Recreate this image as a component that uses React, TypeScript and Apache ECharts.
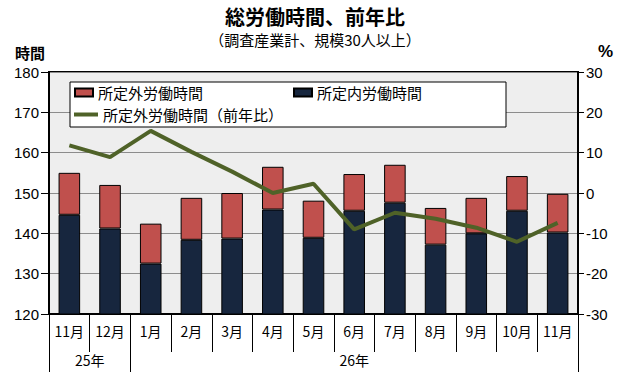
import React, { useEffect, useRef } from "react";
import * as echarts from "echarts";

const months = ["11月", "12月", "1月", "2月", "3月", "4月", "5月", "6月", "7月", "8月", "9月", "10月", "11月"];
const years = ["25年", "26年"];
const yearStarts = [0, 2];
const scheduled = [144.6, 141.2, 132.5, 138.4, 138.7, 145.9, 138.9, 145.6, 147.6, 137.2, 140.0, 145.6, 140.2];
const overtime = [10.4, 10.8, 9.9, 10.4, 11.3, 10.6, 9.2, 9.1, 9.4, 9.1, 8.8, 8.6, 9.6];
const overtimeYoY = [11.8, 8.9, 15.4, 10.2, 5.3, 0.0, 2.3, -9.0, -4.9, -6.4, -8.6, -12.1, -7.4];

const JP = "'Noto Sans CJK JP', sans-serif";
const NUM = "'Liberation Sans', Arial, sans-serif";

export default function App() {
  const ref = useRef<HTMLDivElement>(null);
  useEffect(() => {
    if (!ref.current) return;
    const chart = echarts.init(ref.current, null, { renderer: "svg" });
    const n = months.length;
    const yearCenters = yearStarts.map((s, i) => {
      const e = i + 1 < yearStarts.length ? yearStarts[i + 1] : n;
      return (s + e) / 2;
    });
    chart.setOption({
      animation: false,
      backgroundColor: "#ffffff",
      title: {
        text: "総労働時間、前年比",
        subtext: "（調査産業計、規模30人以上）",
        left: "center",
        top: 1,
        itemGap: 6,
        textStyle: { fontFamily: JP, fontSize: 20, fontWeight: "bold", color: "#000" },
        subtextStyle: { fontFamily: JP, fontSize: 15, color: "#000" },
      },
      legend: [
        {
          data: [
            { name: "所定外労働時間", icon: "rect" },
            { name: "所定内労働時間", icon: "rect" },
          ],
          left: 70,
          top: 82,
          itemGap: 90,
          itemWidth: 18,
          itemHeight: 8,
          padding: [3, 84, 27, 4],
          backgroundColor: "#ffffff",
          borderColor: "#000",
          borderWidth: 1,
          textStyle: { fontFamily: JP, fontSize: 15, color: "#000" },
          z: 4,
        },
        {
          data: [{ name: "所定外労働時間（前年比）", icon: "rect" }],
          left: 72,
          top: 105,
          itemWidth: 24,
          itemHeight: 4,
          padding: 2,
          textStyle: { fontFamily: JP, fontSize: 15, color: "#000" },
          z: 5,
        },
      ],
      grid: {
        left: 49,
        right: 52,
        top: 72,
        bottom: 66,
        show: true,
        backgroundColor: "#eeeeee",
        borderColor: "#000",
        borderWidth: 2,
      },
      xAxis: [
        {
          type: "category",
          data: months,
          axisLine: { onZero: false, lineStyle: { color: "#000", width: 2 } },
          axisTick: { show: true, interval: 0, length: 38, lineStyle: { color: "#000", width: 1 } },
          axisLabel: { interval: 0, fontFamily: JP, fontSize: 14, color: "#000", margin: 10 },
        },
        {
          type: "value",
          min: 0,
          max: n,
          position: "bottom",
          offset: 0,
          axisLine: { show: false, onZero: false },
          splitLine: { show: false },
          axisTick: {
            show: true,
            customValues: [...yearStarts, n],
            length: 58,
            lineStyle: { color: "#000", width: 1 },
          },
          axisLabel: {
            customValues: yearCenters,
            formatter: (v: number) => {
              const i = yearCenters.findIndex((c) => Math.abs(c - v) < 1e-6);
              return i >= 0 ? years[i] : "";
            },
            fontFamily: JP,
            fontSize: 14,
            color: "#000",
            margin: 39,
          },
        },
      ],
      yAxis: [
        {
          type: "value",
          min: 120,
          max: 180,
          interval: 10,
          name: "時間",
          nameLocation: "end",
          nameGap: 12,
          nameTextStyle: { fontFamily: JP, fontSize: 15, fontWeight: "bold", color: "#000", align: "right", padding: [0, 4, 0, 0] },
          axisLine: { show: true, onZero: false, lineStyle: { color: "#000", width: 2 } },
          axisTick: { show: true, length: 8, lineStyle: { color: "#000" } },
          axisLabel: { fontFamily: NUM, fontSize: 15, color: "#000", margin: 10 },
          splitLine: { show: true, lineStyle: { color: "#8c8c8c", width: 1 } },
        },
        {
          type: "value",
          min: -30,
          max: 30,
          interval: 10,
          position: "right",
          name: "%",
          nameLocation: "end",
          nameGap: 12,
          nameTextStyle: { fontFamily: NUM, fontSize: 17, fontWeight: "bold", color: "#000", align: "left", padding: [0, 0, 0, 20] },
          axisLine: { show: true, onZero: false, lineStyle: { color: "#000", width: 2 } },
          axisTick: { show: true, length: 6, lineStyle: { color: "#000" } },
          axisLabel: { fontFamily: NUM, fontSize: 15, color: "#000", margin: 8 },
          splitLine: { show: false },
        },
      ],
      series: [
        {
          name: "所定内労働時間",
          type: "bar",
          stack: "total",
          data: scheduled,
          barWidth: "53%",
          itemStyle: { color: "#17263e", borderColor: "#000", borderWidth: 1 },
        },
        {
          name: "所定外労働時間",
          type: "bar",
          stack: "total",
          data: overtime,
          barWidth: "53%",
          itemStyle: { color: "#c0504d", borderColor: "#000", borderWidth: 1 },
        },
        {
          name: "所定外労働時間（前年比）",
          type: "line",
          yAxisIndex: 1,
          data: overtimeYoY,
          symbol: "none",
          lineStyle: { color: "#4f6228", width: 4 },
          itemStyle: { color: "#4f6228" },
          z: 5,
        },
      ],
    });
    return () => chart.dispose();
  }, []);
  return <div ref={ref} style={{ position: "fixed", left: 0, top: 0, width: 630, height: 380 }} />;
}
